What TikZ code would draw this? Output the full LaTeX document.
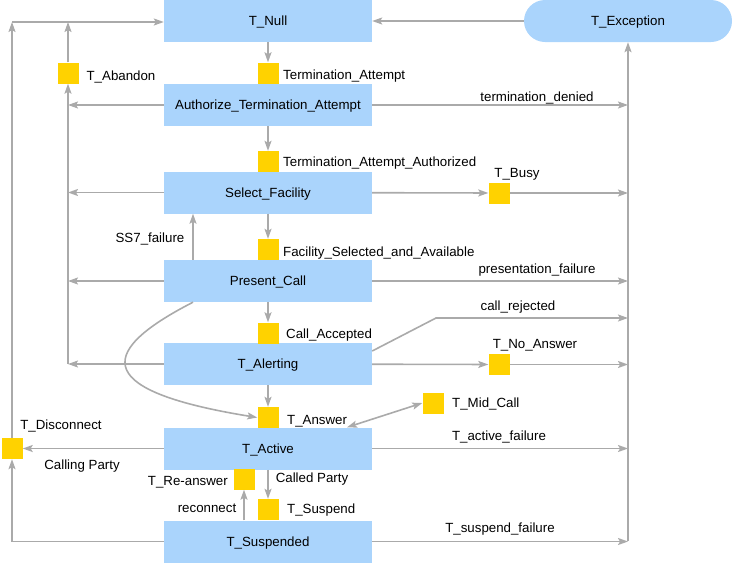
\documentclass[tikz,border=0pt]{standalone}
\usepackage{fontspec}
\setmainfont{Liberation Sans}
\usetikzlibrary{arrows.meta,calc}

\definecolor{stateblue}{RGB}{170,212,252}
\definecolor{eventyellow}{RGB}{255,210,0}
\definecolor{linegray}{RGB}{170,170,170}

\begin{document}
\begin{tikzpicture}[x=1pt,y=-1pt,
    font=\fontsize{13.3}{15}\selectfont,
    every node/.append style={text depth=0pt},
    >={Stealth[length=10pt,width=7pt,inset=2pt]},
    state/.style={rectangle,fill=stateblue,minimum width=208pt,minimum height=42pt,inner sep=0pt},
    exc/.style={state,rounded corners=21pt},
    event/.style={rectangle,fill=eventyellow,minimum size=21pt,inner sep=0pt},
    lbl/.style={inner sep=0pt},
    trans/.style={draw=linegray,line width=1.6pt,->}]
    \useasboundingbox (0,0) rectangle (733,563);

    % States
    \node[state] (tnull) at (268,21) {T\_Null};
    \node[exc] (texc) at (628,21) {T\_Exception};
    \node[state] (auth) at (268,105) {Authorize\_Termination\_Attempt};
    \node[state] (select) at (268,192.5) {Select\_Facility};
    \node[state] (present) at (268,281) {Present\_Call};
    \node[state] (alerting) at (268,364) {T\_Alerting};
    \node[state] (active) at (268,448.5) {T\_Active};
    \node[state] (suspended) at (268,541.5) {T\_Suspended};

    % Events
    \node[event] (ta) at (268,73) {};
    \node[event] (taa) at (268,161.5) {};
    \node[event] (fsa) at (268,249.5) {};
    \node[event] (ca) at (268,333) {};
    \node[event] (tans) at (268,417.5) {};
    \node[event] (tsus) at (268,509.5) {};
    \node[event] (treans) at (244,479) {};
    \node[event] (tab) at (68,73) {};
    \node[event] (tdisc) at (12,448.5) {};
    \node[event] (tbusy) at (499,193) {};
    \node[event] (tnoans) at (499,364.5) {};
    \node[event] (tmid) at (433,403) {};

    % Event labels
    \node[lbl,anchor=west] (lta) at (283,75) {Termination\_Attempt};
    \node[lbl,anchor=west] (ltaa) at (283,162) {Termination\_Attempt\_Authorized};
    \node[lbl,anchor=west] (lfsa) at (283,252) {Facility\_Selected\_and\_Available};
    \node[lbl,anchor=west] (lca) at (286,334) {Call\_Accepted};
    \node[lbl,anchor=west] (ltans) at (287,420) {T\_Answer};
    \node[lbl,anchor=west] (ltsus) at (287,509) {T\_Suspend};
    \node[lbl,anchor=east] (ltreans) at (228,481) {T\_Re-answer};
    \node[lbl,anchor=west] (ltmid) at (452,403) {T\_Mid\_Call};
    \node[lbl] (ltab) at (121,76) {T\_Abandon};
    \node[lbl] (ltdisc) at (61,425) {T\_Disconnect};
    \node[lbl] (ltbusy) at (517,173) {T\_Busy};
    \node[lbl] (ltnoans) at (535,344) {T\_No\_Answer};

    % Transition labels
    \node[lbl] (ldenied) at (537,97) {termination\_denied};
    \node[lbl] (lpresfail) at (537,269) {presentation\_failure};
    \node[lbl] (lrejected) at (518,306) {call\_rejected};
    \node[lbl] (lactfail) at (499,436) {T\_active\_failure};
    \node[lbl] (lsusfail) at (500,528) {T\_suspend\_failure};
    \node[lbl] (lss7) at (150,238) {SS7\_failure};
    \node[lbl] (lcalled) at (312,478) {Called Party};
    \node[lbl] (lcalling) at (82,465) {Calling Party};
    \node[lbl] (lreconnect) at (207,508) {reconnect};

    % Rails
    \coordinate (rleft) at (68,364);
    \coordinate (rexc) at (628,541);
    \coordinate (cdisc) at (12,22);
    \coordinate (caban) at (68,22);
    \coordinate (crbend) at (436,318);

    % Main line
    \draw[trans] (tnull) -- (ta);
    \draw[trans] (auth) -- (taa);
    \draw[trans] (select) -- (fsa);
    \draw[trans] (present) -- (ca);
    \draw[trans] (alerting) -- (tans);
    \draw[trans] (active) -- (tsus);
    \draw[trans] ([xshift=-24pt]suspended.north) -- (treans);
    \draw[trans] ([xshift=-75pt]present.north) -- ([xshift=-75pt]select.south);
    \draw[trans] ([xshift=-75pt]present.south) .. controls (90,355) and (100,392) .. (tans.west);
    \draw[trans,<->] ([xshift=79pt]active.north) -- (tmid.west);

    % Abandon and disconnect
    \draw[trans] (auth) -- (auth -| rleft);
    \draw[trans] (select) -- (select -| rleft);
    \draw[trans] (present) -- (present -| rleft);
    \draw[trans] (alerting) -- (alerting -| rleft);
    \draw[trans] (rleft) -- (tab);
    \draw[trans] (tab) -- (caban);
    \draw[trans] (active) -- (tdisc);
    \draw[trans] (suspended) -| (tdisc);
    \draw[trans] (tdisc) -- (cdisc);
    \draw[trans] (cdisc) -- (cdisc -| tnull.west);

    % Exceptions
    \draw[trans] (auth) -- (auth -| rexc);
    \draw[trans] (select) -- (tbusy);
    \draw[trans] (tbusy) -- (tbusy -| rexc);
    \draw[trans] (present) -- (present -| rexc);
    \draw[trans] ([yshift=13pt]alerting.east) -- (crbend) -- (crbend -| rexc);
    \draw[trans] (alerting) -- (tnoans);
    \draw[trans] (tnoans) -- (tnoans -| rexc);
    \draw[trans] (active) -- (active -| rexc);
    \draw[trans] (suspended) -- (suspended -| rexc);
    \draw[trans] (rexc) -- (texc);
    \draw[trans] (texc) -- (tnull);
\end{tikzpicture}
\end{document}
